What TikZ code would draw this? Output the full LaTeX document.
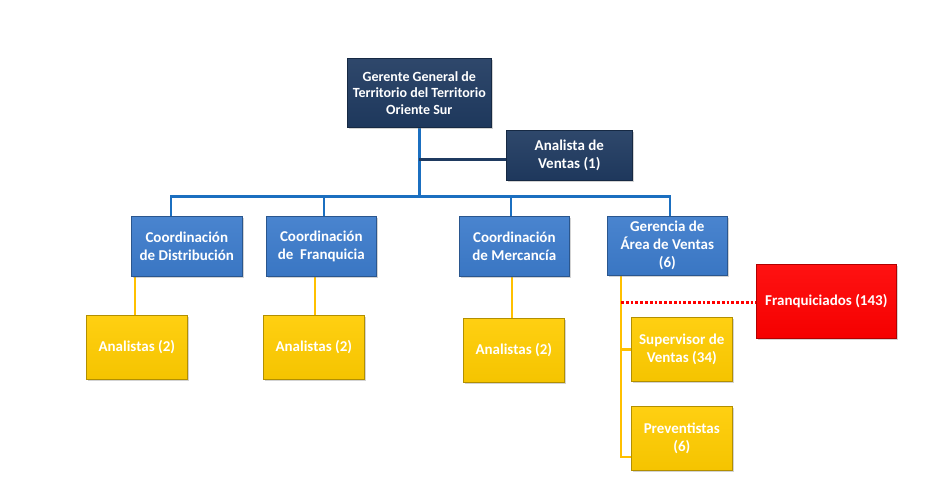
\documentclass[tikz,border=0pt]{standalone}
\usepackage{fontspec}
\setmainfont{Carlito}
\usetikzlibrary{shadows,calc}
\pgfdeclarelayer{bg}
\pgfsetlayers{bg,main}
\definecolor{navy}{HTML}{1F3A60}
\definecolor{midblue}{HTML}{3C7BCB}
\definecolor{lineblue}{HTML}{1B6FC0}
\definecolor{gold}{HTML}{FFCC00}
\definecolor{goldline}{HTML}{FFC000}
\definecolor{redbox}{HTML}{FF0000}
\begin{document}
\begin{tikzpicture}[x=1pt,y=-1pt,
  box/.style={draw=#1!70!black,line width=0.6pt,top color=#1!93!white,bottom color=#1!96!black,text=white,font=\bfseries\fontsize{15}{18}\selectfont,align=center,inner sep=0pt,anchor=north west,drop shadow={shadow xshift=2pt,shadow yshift=-2pt,opacity=0.35}},
  topbox/.style={box=navy,font=\bfseries\fontsize{14}{16.5}\selectfont},
  blueline/.style={draw=lineblue,line width=2.8pt},
  yline/.style={draw=goldline,line width=2.8pt}]
\useasboundingbox (0,0) rectangle (947,497);
% boxes
\node[topbox,minimum width=144pt,minimum height=69pt] (g) at (347,58) {Gerente General de\\Territorio del Territorio\\Oriente Sur};
\node[box=navy,minimum width=126pt,minimum height=50pt] (av) at (506,130) {Analista de\\Ventas (1)};
\node[box=midblue,minimum width=111pt,minimum height=60pt] (cd) at (131,216) {Coordinación\\de Distribución};
\node[box=midblue,minimum width=110pt,minimum height=60pt] (cf) at (266,216) {Coordinación\\de\ \ Franquicia};
\node[box=midblue,minimum width=110pt,minimum height=60pt] (cm) at (459,216) {Coordinación\\de Mercancía};
\node[box=midblue,minimum width=120pt,minimum height=59pt] (ga) at (607,216) {Gerencia de\\Área de Ventas\\(6)};
\node[box=gold,minimum width=101pt,minimum height=64pt] (a1) at (86,315) {Analistas (2)};
\node[box=gold,minimum width=101pt,minimum height=64pt] (a2) at (263,315) {Analistas (2)};
\node[box=gold,minimum width=101pt,minimum height=64pt] (a3) at (463,318) {Analistas (2)};
\node[box=gold,minimum width=101pt,minimum height=64pt] (sv) at (631,317) {Supervisor de\\Ventas (34)};
\node[box=gold,minimum width=101pt,minimum height=64pt] (pv) at (631,406) {Preventistas\\(6)};
\node[box=redbox,minimum width=140pt,minimum height=74pt] (fr) at (756,264) {Franquiciados (143)};
% connectors
\begin{pgfonlayer}{bg}
\coordinate (bus) at ($(g.south)+(0,69)$);
\coordinate (jn) at ($(g.south)+(0,32)$);
\coordinate (cdt) at ($(cd.north west)+(40,0)$);
\coordinate (cft) at ($(cf.north west)+(58,0)$);
\coordinate (cmt) at ($(cm.north west)+(52,0)$);
\coordinate (gat) at ($(ga.north west)+(63,0)$);
\coordinate (cdb) at ($(cd.south west)+(4,0)$);
\coordinate (cfb) at ($(cf.south west)+(49,0)$);
\coordinate (cmb) at ($(cm.south west)+(53,0)$);
\coordinate (gab) at ($(ga.south west)+(14,0)$);
\coordinate (fq) at ($(gab)+(0,27)$);
\coordinate (pvj) at ($(pv.north west)+(0,51)$);
\draw[blueline] (g.south) -- (bus);
\draw[draw=navy,line width=2.8pt] (jn) -- (jn -| av.west);
\draw[blueline] (cdt) |- (bus) -| (gat);
\draw[blueline] (cft) -- (cft |- bus);
\draw[blueline] (cmt) -- (cmt |- bus);
\draw[yline] (cdb) -- (cdb |- a1.north);
\draw[yline] (cfb) -- (cfb |- a2.north);
\draw[yline] (cmb) -- (cmb |- a3.north);
\draw[yline] (sv.west) -| (gab);
\draw[yline] (gab |- sv.west) |- (pvj);
\draw[draw=redbox,line width=2.8pt,dotted] (fq) -- (fq -| fr.west);
\end{pgfonlayer}
\end{tikzpicture}
\end{document}
